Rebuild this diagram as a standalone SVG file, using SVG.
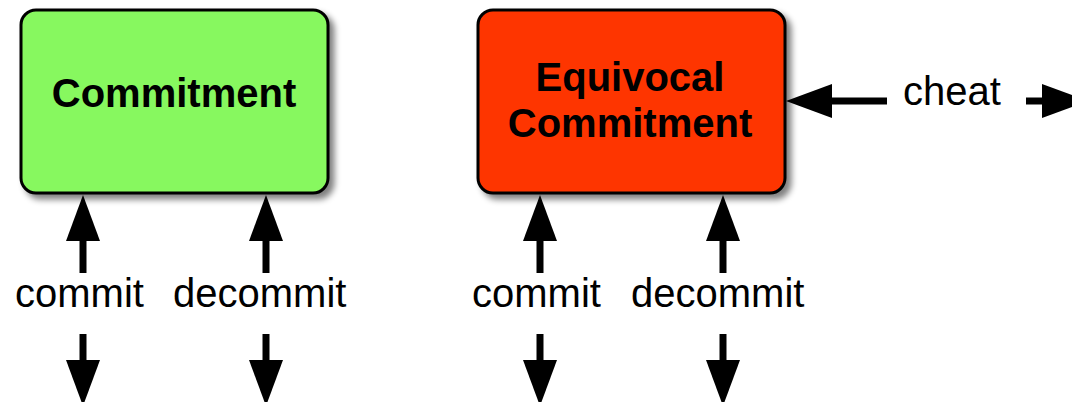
<svg xmlns="http://www.w3.org/2000/svg" width="1072" height="402" viewBox="0 0 1072 402">
<style>
.box{stroke:#000;stroke-width:3;filter:url(#sh)}
.title{font-family:"Liberation Sans",Arial,sans-serif;font-weight:bold;font-size:40px;text-anchor:middle;fill:#000}
.lbl{font-family:"Liberation Sans",Arial,sans-serif;font-size:40px;fill:#000}
.arr{stroke:#000;stroke-width:7;fill:none;marker-end:url(#head)}
</style>
<defs>
<filter id="sh" x="-10%" y="-10%" width="130%" height="130%">
<feGaussianBlur in="SourceAlpha" stdDeviation="3"/>
<feOffset dx="5" dy="5" result="b"/>
<feComponentTransfer><feFuncA type="linear" slope="0.5"/></feComponentTransfer>
<feMerge><feMergeNode/><feMergeNode in="SourceGraphic"/></feMerge>
</filter>
<marker id="head" markerUnits="userSpaceOnUse" markerWidth="48" markerHeight="36" viewBox="0 -18 48 36" refX="0" refY="0" orient="auto">
<path d="M0,-17 L46,0 L0,17 z" fill="#000"/>
</marker>
</defs>
<g id="commitment">
<rect class="box" x="21" y="10" width="307" height="183" rx="15" fill="#87f85e"/>
<text class="title" x="174" y="107">Commitment</text>
</g>
<g id="equivocal">
<rect class="box" x="478" y="10" width="307" height="183" rx="15" fill="#fe3401"/>
<text class="title" x="630" y="91">Equivocal</text>
<text class="title" x="630" y="137">Commitment</text>
</g>
<g id="labels">
<text class="lbl" x="15" y="307">commit</text>
<text class="lbl" x="173" y="307">decommit</text>
<text class="lbl" x="472" y="307">commit</text>
<text class="lbl" x="631" y="307">decommit</text>
<text class="lbl" x="903" y="105">cheat</text>
</g>
<g id="connectors">
<line class="arr" x1="83" y1="273" x2="83" y2="241"/>
<line class="arr" x1="266" y1="273" x2="266" y2="241"/>
<line class="arr" x1="540" y1="273" x2="540" y2="241"/>
<line class="arr" x1="723" y1="273" x2="723" y2="241"/>
<line class="arr" x1="83" y1="334" x2="83" y2="360"/>
<line class="arr" x1="266" y1="334" x2="266" y2="360"/>
<line class="arr" x1="540" y1="334" x2="540" y2="360"/>
<line class="arr" x1="723" y1="334" x2="723" y2="360"/>
<line class="arr" x1="887" y1="101" x2="832" y2="101"/>
<line class="arr" x1="1026" y1="101" x2="1042" y2="101"/>
</g>
</svg>
